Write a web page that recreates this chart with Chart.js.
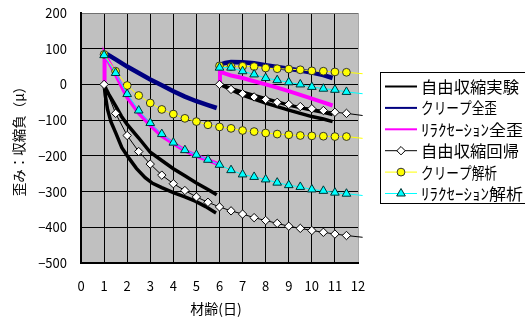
<!DOCTYPE html>
<html><head><meta charset="utf-8">
<script src="https://cdn.jsdelivr.net/npm/chart.js@4.4.1/dist/chart.umd.min.js"></script>
<style>html,body{margin:0;padding:0;background:#fff;overflow:hidden}canvas{display:block}</style>
</head><body>
<canvas id="c" width="525" height="325"></canvas>
<script>
// ---- tick labels ----
const xTicks = [0,1,2,3,4,5,6,7,8,9,10,11,12];
const yTicks = [200,100,0,-100,-200,-300,-400,-500];

// ---- series labels ----
const seriesLabels = ['自由収縮実験','クリープ全歪','ﾘﾗｸｾｰｼｮﾝ全歪','自由収縮回帰','クリープ解析','ﾘﾗｸｾｰｼｮﾝ解析'];

// ---- analysis / regression (half-day steps) ----
const days1 = [1,1.5,2,2.5,3,3.5,4,4.5,5,5.5,6,6.5,7,7.5,8,8.5,9,9.5,10,10.5,11,11.5];
const days2 = [6,6.5,7,7.5,8,8.5,9,9.5,10,10.5,11,11.5];
const tailDay = 12.2;

const regr1 = [0,-81,-143,-188,-223,-254,-278,-297,-315,-330,-343,-354,-363,-373,-381,-389,-397,-403,-409,-414,-419,-423];
const regr1Tail = -428;
const regr2 = [0,-14,-26,-35,-42,-50,-56,-62,-68,-73,-78,-81];
const regr2Tail = -87;

const creepAna1 = [84,37,-3,-31,-52,-70,-83,-95,-104,-113,-119,-123,-129,-132,-136,-139,-141,-143,-144,-145,-146,-146];
const creepAna1Tail = -151;
const creepAna2 = [52,50,51,50,46,44,43,41,38,37,35,34];
const creepAna2Tail = 30;

const relaxAna1 = [82,32,-27,-73,-108,-139,-163,-184,-197,-211,-225,-240,-252,-259,-266,-275,-282,-287,-294,-298,-303,-306];
const relaxAna1Tail = -311;
const relaxAna2 = [47,47,37,28,18,12,6,0,-7,-12,-15,-21];
const relaxAna2Tail = -26;

// ---- experiments ----
const expA1Days = [1,1.1,1.2,1.5,1.75,2,2.5,3,3.5,4,4.5,5,5.5,5.88];
const expA1 = [0,-14,-27,-60,-89,-112,-150,-190,-213,-236,-256,-276,-294,-309];
const expB1Days = [1,1.05,1.15,1.3,1.5,1.77,2.06,2.4,2.78,3.1,3.5,4,4.5,4.95,5.4,5.85];
const expB1 = [0,-30,-70,-105,-135,-177,-205,-235,-261,-277,-289,-303,-315,-327,-342,-360];
const exp2Days = [5.96,6.5,7,7.5,8,8.5,9,9.5,10,10.5,10.9];
const expA2 = [2,-12,-22,-31,-40,-49,-58,-65,-72,-78,-84];
const expB2 = [2,-15,-30,-41,-52,-62,-72,-81,-90,-97,-104];

const creepTot1Days = [1,1.1,1.25,1.5,2,2.5,3,3.5,4,4.5,5,5.5,5.88];
const creepTot1 = [88,86,80,70,50,32,14,-2,-19,-34,-47,-58,-66];
const creepTot2Days = [6,6.25,6.5,7,7.5,8,8.5,9,9.5,10,10.5,10.9];
const creepTot2 = [55,60,63,62,59,54,49,44,39,33,26,18];

const relaxTot1Days = [1,1.02,1.5,2,2.5,3,3.5,4,4.5,5,5.5,5.9];
const relaxTot1 = [5,85,28,-36,-80,-114,-144,-165,-185,-200,-212,-222];
const relaxTot2Days = [6,6.02,6.25,6.5,7,7.5,8,8.5,9,9.5,10,10.5,10.9];
const relaxTot2 = [3,36,30,25,18,9,0,-9,-19,-29,-40,-50,-59];

// ---- helpers ----
const pts = (d, v) => d.map((x, i) => ({x, y: v[i]}));
const withTail = (d, v, t) => pts(d, v).concat([{x: tailDay, y: t}]);
function joinSeg(...segs) {
  const out = [];
  segs.forEach((s, i) => { if (i) out.push({x: s[0].x, y: null}); out.push(...s); });
  return out;
}
const FONT = '"Noto Sans CJK JP", "Noto Sans", sans-serif';
const markerRadius = r => ctx => (ctx.raw && ctx.raw.x > 12) ? 0 : r;
const clipOut = {left: 3, top: 3, right: 8, bottom: 3};

const datasets = [
  { label: seriesLabels[0], data: joinSeg(pts(expA1Days, expA1), pts(expB1Days, expB1), pts(exp2Days, expA2), pts(exp2Days, expB2)),
    borderColor: '#000000', borderWidth: 3.5, pointRadius: 0, order: 3, legendLine: 2 },
  { label: seriesLabels[1], data: joinSeg(pts(creepTot1Days, creepTot1), pts(creepTot2Days, creepTot2)),
    borderColor: '#000080', borderWidth: 4.5, pointRadius: 0, order: 3, legendLine: 2 },
  { label: seriesLabels[2], data: joinSeg(pts(relaxTot1Days, relaxTot1), pts(relaxTot2Days, relaxTot2)),
    borderColor: '#ff00ff', borderWidth: 4, pointRadius: 0, order: 3, legendLine: 2 },
  { label: seriesLabels[3], data: joinSeg(withTail(days1, regr1, regr1Tail), withTail(days2, regr2, regr2Tail)),
    borderColor: '#000000', borderWidth: 1, pointStyle: 'rectRot', pointRadius: markerRadius(4.2),
    pointBackgroundColor: '#ffffff', pointBorderColor: '#000000', pointBorderWidth: 1, order: 2, legendLine: 1, legendMarker: 4.2, clip: clipOut },
  { label: seriesLabels[4], data: joinSeg(withTail(days1, creepAna1, creepAna1Tail), withTail(days2, creepAna2, creepAna2Tail)),
    borderColor: '#ffff00', borderWidth: 1, pointStyle: 'circle', pointRadius: markerRadius(3.9),
    pointBackgroundColor: '#ffff00', pointBorderColor: '#333333', pointBorderWidth: 1, order: 1, legendLine: 1, legendMarker: 3.9, clip: clipOut },
  { label: seriesLabels[5], data: joinSeg(withTail(days1, relaxAna1, relaxAna1Tail), withTail(days2, relaxAna2, relaxAna2Tail)),
    borderColor: '#00ffff', borderWidth: 1, pointStyle: 'triangle', pointRadius: markerRadius(5),
    pointBackgroundColor: '#00ffff', pointBorderColor: '#003333', pointBorderWidth: 1, order: 0, legendLine: 1, legendMarker: 5, clip: clipOut }
];
datasets.forEach(d => { d.spanGaps = false; d.tension = 0; d.fill = false; d.pointHoverRadius = 0; });

function drawMarker(ctx, style, r, x, y) {
  ctx.beginPath();
  if (style === 'rectRot') {
    ctx.moveTo(x, y - r); ctx.lineTo(x + r, y); ctx.lineTo(x, y + r); ctx.lineTo(x - r, y); ctx.closePath();
  } else if (style === 'circle') {
    ctx.arc(x, y, r, 0, Math.PI * 2);
  } else if (style === 'triangle') {
    let a = 0;
    ctx.moveTo(x + Math.sin(a) * r, y - Math.cos(a) * r);
    a += 2 * Math.PI / 3; ctx.lineTo(x + Math.sin(a) * r, y - Math.cos(a) * r);
    a += 2 * Math.PI / 3; ctx.lineTo(x + Math.sin(a) * r, y - Math.cos(a) * r);
    ctx.closePath();
  }
  ctx.fill(); ctx.stroke();
}

const legendTextWidths = [98, 76, 102, 98, 76, 102];

const decor = {
  id: 'decor',
  beforeDraw(chart) {
    const {ctx, chartArea: a} = chart;
    ctx.save();
    ctx.fillStyle = '#c0c0c0';
    ctx.fillRect(a.left, a.top, a.right - a.left, a.bottom - a.top);
    ctx.restore();
  },
  afterDraw(chart) {
    const ctx = chart.ctx;
    ctx.save();
    // axis titles
    ctx.fillStyle = '#000';
    ctx.font = '14px ' + FONT;
    ctx.textAlign = 'center'; ctx.textBaseline = 'middle';
    ctx.fillText('材齢(日)', 216, 309);
    ctx.save();
    ctx.translate(19, 138);
    ctx.rotate(-Math.PI / 2);
    ctx.font = '13.5px ' + FONT;
    ctx.fillText('歪み：収縮負（μ）', 0, 0);
    ctx.restore();
    // legend box
    ctx.fillStyle = '#ffffff';
    ctx.fillRect(381, 73, 150, 130);
    ctx.strokeStyle = '#000'; ctx.lineWidth = 1;
    ctx.strokeRect(380.5, 72.5, 150, 131);
    chart.data.datasets.forEach((ds, i) => {
      const y = 86.5 + i * 21.4;
      ctx.strokeStyle = ds.borderColor; ctx.lineWidth = ds.legendLine;
      ctx.beginPath(); ctx.moveTo(385, y); ctx.lineTo(417, y); ctx.stroke();
      if (ds.legendMarker) {
        ctx.fillStyle = ds.pointBackgroundColor; ctx.strokeStyle = ds.pointBorderColor; ctx.lineWidth = 1;
        drawMarker(ctx, ds.pointStyle, ds.legendMarker, 401, y);
      }
      ctx.fillStyle = '#000';
      ctx.font = '16px ' + FONT;
      ctx.textAlign = 'left'; ctx.textBaseline = 'middle';
      const w = ctx.measureText(ds.label).width;
      ctx.save();
      ctx.translate(421, y + 0.5);
      ctx.scale(legendTextWidths[i] / w, 1);
      ctx.fillText(ds.label, 0, 0);
      ctx.restore();
    });
    ctx.restore();
  }
};

Chart.defaults.font.family = FONT;
Chart.defaults.font.size = 13;
Chart.defaults.color = '#000';

new Chart(document.getElementById('c'), {
  type: 'line',
  data: { datasets },
  options: {
    responsive: false, animation: false, devicePixelRatio: 1,
    events: [],
    layout: { padding: { left: 0, right: 167, top: 13, bottom: 0 } },
    plugins: { legend: { display: false }, tooltip: { enabled: false } },
    scales: {
      x: {
        type: 'linear', min: 0, max: 12,
        afterBuildTicks: s => { s.ticks = xTicks.map(v => ({value: v})); },
        afterFit: s => { s.height = 62; s.paddingLeft = 0; s.paddingRight = 0; },
        ticks: { padding: 15, maxRotation: 0, autoSkip: false, font: { size: 13 } },
        grid: { color: c => c.tick && c.tick.value === 12 ? '#a8a8a8' : '#000000', lineWidth: 1, drawTicks: false },
        border: { display: true, color: '#000', width: 2 }
      },
      y: {
        type: 'linear', min: -500, max: 200,
        afterBuildTicks: s => { s.ticks = yTicks.map(v => ({value: v})); },
        afterFit: s => { s.width = 81; s.paddingTop = 0; s.paddingBottom = 0; },
        ticks: { padding: 14, autoSkip: false, font: { size: 13 }, callback: v => String(v).replace('-', '−') },
        grid: { color: c => c.tick && c.tick.value === 200 ? '#707070' : '#000000', lineWidth: 1, drawTicks: false },
        border: { display: true, color: '#000', width: 2 }
      }
    }
  },
  plugins: [decor]
});
</script>
</body></html>
